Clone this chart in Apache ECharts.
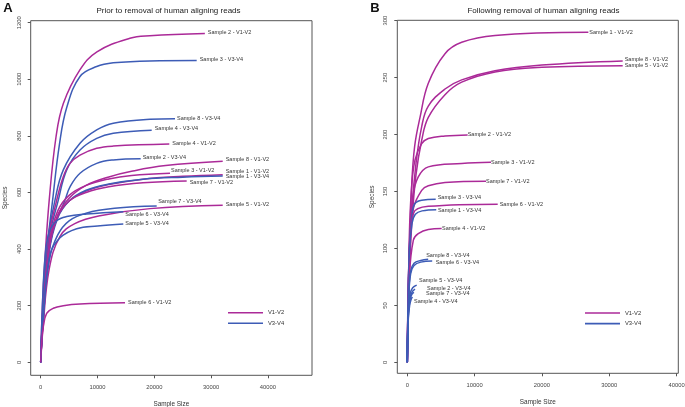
<!DOCTYPE html>
<html>
<head>
<meta charset="utf-8">
<script src="https://cdn.jsdelivr.net/npm/echarts@6/dist/echarts.min.js"></script>
<style>html,body{margin:0;padding:0;background:#fff}#c{width:685px;height:407px}</style>
</head>
<body>
<div id="c"></div>
<script>
// ---------- DATA ----------
const xTicks = [0, 10000, 20000, 30000, 40000];
const yTicksA = [0, 200, 400, 600, 800, 1000, 1200];
const yTicksB = [0, 50, 100, 150, 200, 250, 300];
const legendNames = ['V1-V2', 'V3-V4'];

// Panel A: prior to removal of human aligning reads
const labelsA = ['Sample 2 - V1-V2','Sample 3 - V3-V4','Sample 8 - V3-V4','Sample 4 - V3-V4','Sample 4 - V1-V2','Sample 2 - V3-V4','Sample 8 - V1-V2','Sample 3 - V1-V2','Sample 1 - V1-V2','Sample 1 - V3-V4','Sample 7 - V1-V2','Sample 7 - V3-V4','Sample 5 - V1-V2','Sample 6 - V3-V4','Sample 5 - V3-V4','Sample 6 - V1-V2'];
const groupsA = ['V1-V2','V3-V4','V3-V4','V3-V4','V1-V2','V3-V4','V1-V2','V1-V2','V1-V2','V3-V4','V1-V2','V3-V4','V1-V2','V3-V4','V3-V4','V1-V2'];
const curveXA = [
  [0,300,700,1500,2700,4000,6900,9900,15700,19200,28900],
  [0,350,900,2100,3300,4580,6920,9860,12780,19240,27460],
  [0,400,1200,2520,3980,6920,9860,12780,19240,23640],
  [0,400,1300,3100,4580,6920,9860,12780,19540],
  [0,400,1300,2820,3980,5160,6920,9860,12780,22640],
  [0,400,1500,4280,5160,6920,9860,12780,17600],
  [0,400,1500,3000,5000,8000,12000,16000,22000,32040],
  [0,400,1500,3000,5000,8000,12000,16000,22760],
  [0,400,1500,3000,5000,8000,12000,18000,25000,32040],
  [0,400,1500,3000,5000,8000,12000,18000,25000,32040],
  [0,400,1500,3000,5000,8000,12000,18000,25700],
  [0,400,1500,3000,5000,8000,13000,20420],
  [0,400,1500,3400,6000,10440,19240,32040],
  [0,300,800,1500,2800,4580,8100,14540],
  [0,400,1640,3400,6340,10000,14540],
  [0,200,460,1050,2220,3980,6920,14840]
];
const curveYA = [
  [0,200,350,573,797,915,1033,1097,1145,1154,1162],
  [0,170,360,573,770,900,1010,1045,1058,1065,1066],
  [0,190,420,573,680,774,821,845,859,861],
  [0,180,420,573,680,750,791,809,820],
  [0,190,430,573,656,703,732,756,764,771],
  [0,170,430,573,620,668,703,715,719],
  [0,150,400,520,580,625,655,675,695,710],
  [0,160,420,535,590,625,648,660,668],
  [0,150,400,515,570,605,628,647,657,663],
  [0,140,390,510,570,608,630,647,654,658],
  [0,150,400,515,570,600,620,634,641],
  [0,140,360,450,500,527,544,552],
  [0,120,330,445,490,518,543,555],
  [0,200,380,460,500,515,524,532],
  [0,140,380,440,472,482,489],
  [0,80,126,173,191,200,206,210]
];

// Panel B: following removal of human aligning reads
const labelsB = ['Sample 1 - V1-V2','Sample 8 - V1-V2','Sample 5 - V1-V2','Sample 2 - V1-V2','Sample 3 - V1-V2','Sample 7 - V1-V2','Sample 3 - V3-V4','Sample 6 - V1-V2','Sample 1 - V3-V4','Sample 4 - V1-V2','Sample 8 - V3-V4','Sample 6 - V3-V4','Sample 5 - V3-V4','Sample 2 - V3-V4','Sample 7 - V3-V4','Sample 4 - V3-V4'];
const groupsB = ['V1-V2','V1-V2','V1-V2','V1-V2','V1-V2','V1-V2','V3-V4','V1-V2','V3-V4','V1-V2','V3-V4','V3-V4','V3-V4','V3-V4','V3-V4','V3-V4'];
const curveXB = [
  [0,300,650,1100,1890,3120,5600,8080,13030,26900],
  [0,300,700,1300,2140,3120,5600,8080,13030,20000,32000],
  [0,300,700,1300,2140,3120,5600,8080,13030,20000,32000],
  [0,300,600,1140,2140,3120,5600,8970],
  [0,300,800,1630,3120,8080,12440],
  [0,300,900,2140,3120,5600,11700],
  [0,300,700,1140,2140,4220],
  [0,300,900,3120,13430],
  [0,300,700,1200,2200,4300],
  [0,300,900,1630,3120,5110],
  [0,200,500,1000,2000,3100],
  [0,200,500,1000,2000,3700],
  [0,150,400,800,1400],
  [0,150,400,800,1150],
  [0,150,400,700,1000],
  [0,150,350,550,750]
];
const curveYB = [
  [0,90,155,190,215,245,271,281,287,289.7],
  [0,80,135,175,207,225,240,248,256,261,264.6],
  [0,75,125,165,195,215,235,246,255,259,260.5],
  [0,110,150,177.5,192,196.5,198.8,199.7],
  [0,100,145,162.8,171.6,174.6,175.7],
  [0,95,135,151,155,158,159],
  [0,100,130,139.5,142.4,143.2],
  [0,90,130.7,137,138.9],
  [0,95,122,130,133,134],
  [0,75,107.3,113,116.7,117.5],
  [0,60,80,87,89.5,90.5],
  [0,55,78,85,88,89],
  [0,45,60,65.5,67.8],
  [0,42,57,62.5,64.3],
  [0,40,55,60,61.4],
  [0,38,50,55,57.5]
];

// ---------- STYLE ----------
const FONT = 'Liberation Sans, Arial, sans-serif';
const COLORS = { 'V1-V2': '#ab2a98', 'V3-V4': '#3d5cb6' };
// end-label pixel offsets [dx, dy] (layout only)
const labelOffA = [[3,-1],[3,-1],[2,0],[3,-1.5],[3,-1],[2,-1],[3,-1.5],[1,-3],[3,-3.2],[3,0.5],[3,1.7],[1.5,-4.3],[3,-0.6],[2,3],[2,0],[3,-0.6]];
const labelOffB = [[1,0],[2,-1.4],[2,-0.3],[0,0],[0,0],[0,0],[2,-2],[2,0],[1.7,0.3],[0.3,0],[-2,-3.8],[3.5,1],[2.3,-4.5],[12,-1],[12,1.5],[1.7,5]];

function zip(xs, ys) { return xs.map((x, i) => [x, ys[i]]); }

function makeSeries(labels, groups, xs, ys, offs, idx) {
  return labels.map((lab, i) => ({
    type: 'line',
    name: groups[i],
    xAxisIndex: idx, yAxisIndex: idx,
    data: zip(xs[i], ys[i]),
    smooth: 0.4,
    showSymbol: false,
    symbol: 'none',
    silent: true,
    color: COLORS[groups[i]],
    lineStyle: { width: 1.5, color: COLORS[groups[i]] },
    endLabel: {
      show: true, formatter: lab, distance: 0, offset: offs[i],
      fontSize: 5.5, color: '#333', fontFamily: FONT
    }
  }));
}

const plain = v => String(v);

function xAxis(idx, min, max) {
  return {
    type: 'value', gridIndex: idx, min: min, max: max,
    splitLine: { show: false },
    axisLine: { show: false, onZero: false },
    axisTick: { show: true, length: 3, lineStyle: { color: '#555', width: 1 }, customValues: xTicks },
    axisLabel: { customValues: xTicks, formatter: plain, fontSize: 5.8, color: '#444', margin: 9.5, fontFamily: FONT },
    name: 'Sample Size', nameLocation: 'middle', nameGap: 26,
    nameTextStyle: { fontSize: 6.4, color: '#333', fontFamily: FONT }
  };
}
function yAxis(idx, min, max, ticks) {
  return {
    type: 'value', gridIndex: idx, min: min, max: max,
    splitLine: { show: false },
    axisLine: { show: false, onZero: false },
    axisTick: { show: true, length: 3, lineStyle: { color: '#555', width: 1 }, customValues: ticks },
    axisLabel: { customValues: ticks, formatter: plain, fontSize: 5.8, color: '#444', margin: 8.5, rotate: 90, fontFamily: FONT },
    name: 'Species', nameLocation: 'middle', nameGap: 22, nameRotate: 90,
    nameTextStyle: { fontSize: 6.4, color: '#333', fontFamily: FONT }
  };
}
function legend(left, top) {
  return {
    show: true, data: legendNames, orient: 'vertical', left: left, top: top,
    icon: 'rect', itemWidth: 35, itemHeight: 1.6, itemGap: 4.6, padding: 0,
    selectedMode: false,
    textStyle: { fontSize: 5.8, color: '#333', fontFamily: FONT }
  };
}

const chart = echarts.init(document.getElementById('c'), null, { renderer: 'canvas' });
chart.setOption({
  animation: false,
  backgroundColor: '#fff',
  title: [
    { text: 'A', left: 8, top: 2, textAlign: 'center', padding: 0, textStyle: { fontSize: 13, fontWeight: 'bold', color: '#111', fontFamily: FONT } },
    { text: 'B', left: 375, top: 2, textAlign: 'center', padding: 0, textStyle: { fontSize: 13, fontWeight: 'bold', color: '#111', fontFamily: FONT } },
    { text: 'Prior to removal of human aligning reads', left: 168.5, top: 6.3, textAlign: 'center', padding: 0, textStyle: { fontSize: 8, fontWeight: 'normal', color: '#222', fontFamily: FONT } },
    { text: 'Following removal of human aligning reads', left: 543.5, top: 6.3, textAlign: 'center', padding: 0, textStyle: { fontSize: 8, fontWeight: 'normal', color: '#222', fontFamily: FONT } }
  ],
  legend: [legend(228, 309.7), legend(585, 310)],
  grid: [
    { left: 30.7, top: 20.7, width: 281.3, height: 354.6, show: true, borderColor: '#555', borderWidth: 1, backgroundColor: 'transparent', containLabel: false, outerBoundsMode: 'none' },
    { left: 397.3, top: 20.3, width: 281, height: 353, show: true, borderColor: '#555', borderWidth: 1, backgroundColor: 'transparent', containLabel: false, outerBoundsMode: 'none' }
  ],
  xAxis: [xAxis(0, -1760, 47760), xAxis(1, -1485, 40260)],
  yAxis: [yAxis(0, -45.9, 1207, yTicksA), yAxis(1, -9.6, 300.3, yTicksB)],
  series: makeSeries(labelsA, groupsA, curveXA, curveYA, labelOffA, 0)
    .concat(makeSeries(labelsB, groupsB, curveXB, curveYB, labelOffB, 1))
});
</script>
</body>
</html>
